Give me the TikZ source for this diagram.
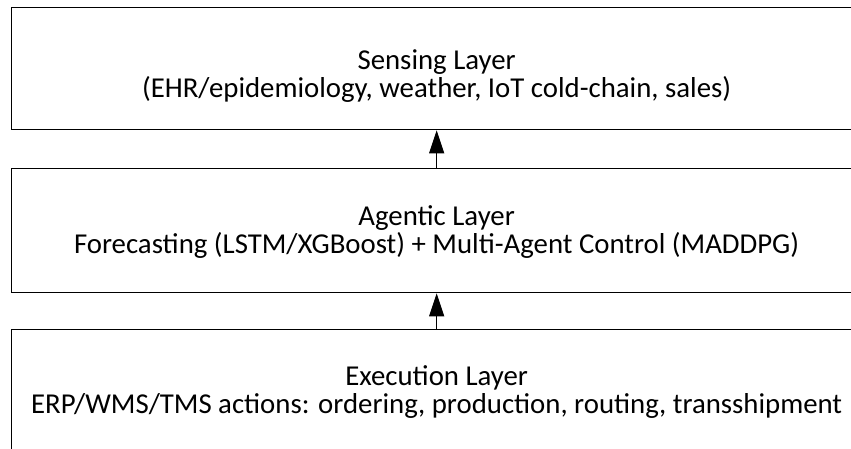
\documentclass[tikz,border=0pt]{standalone}
\usepackage{fontspec}
\setmainfont{Carlito}
\usetikzlibrary{arrows.meta}
\begin{document}
\begin{tikzpicture}[x=1pt,y=1pt,
  layer/.style={draw=black,line width=1.3pt,minimum width=850pt,inner sep=0pt,anchor=north west},
  layertext/.style={align=center,inner sep=0pt,font=\fontsize{28.8}{28}\selectfont},
  uparrow/.style={line width=1pt,-{Triangle[width=15pt,length=23pt]}}]
\useasboundingbox (0,0) rectangle (851,-448);
\node[layer,minimum height=122pt] (sense) at (11,-7) {};
\node[layer,minimum height=124pt] (agent) at (11,-168) {};
\node[layer,minimum height=122pt] (exec) at (11,-329) {};
\node[layertext] (senset) at ([yshift=-7pt]sense.center)
  {Sensing Layer\\(EHR/epidemiology, weather, IoT cold-chain, sales)};
\node[layertext] (agentt) at ([yshift=-1pt]agent.center)
  {Agentic Layer\\Forecasting (LSTM/XGBoost) + Multi-Agent Control (MADDPG)};
\node[layertext] (exect) at ([yshift=-1pt]exec.center)
  {Execution Layer\\ERP/WMS/TMS actions: ordering, production, routing, transshipment};
\draw[uparrow] (agent.north) -- (sense.south);
\draw[uparrow] (exec.north) -- (agent.south);
\end{tikzpicture}
\end{document}
